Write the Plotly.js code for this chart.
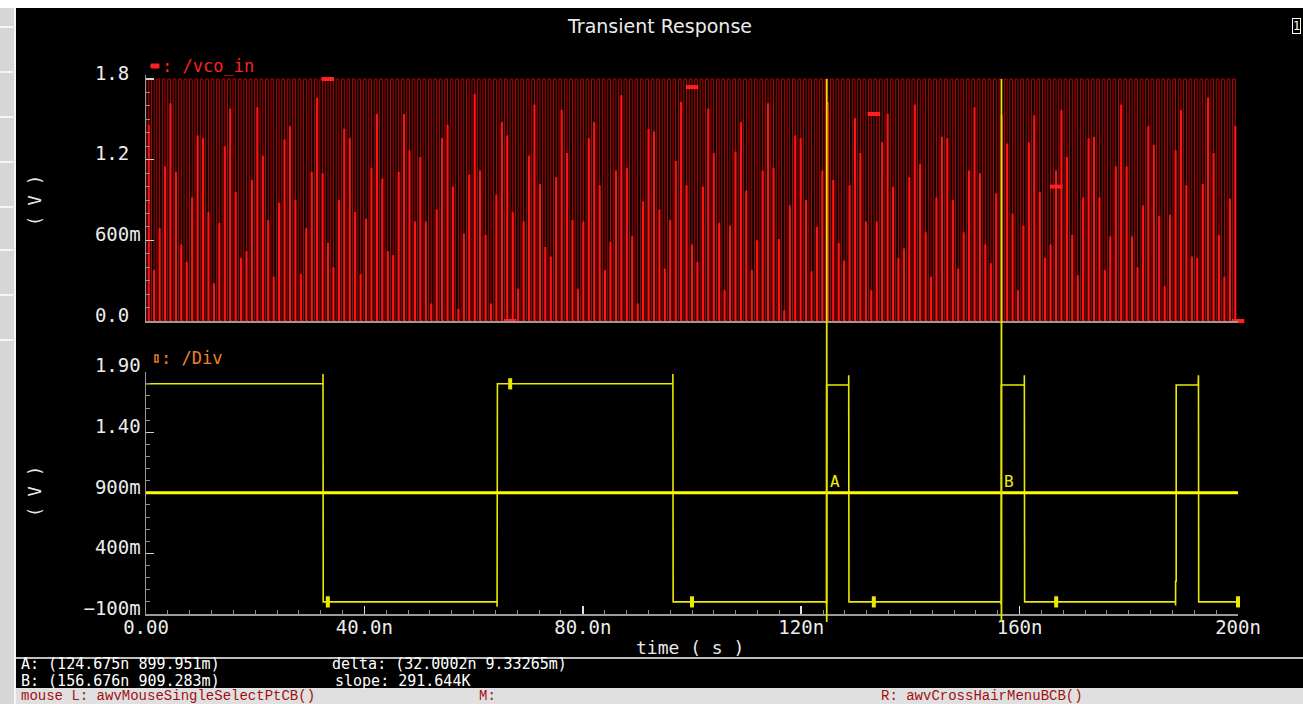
<!DOCTYPE html>
<html><head><meta charset="utf-8">
<script src="https://cdn.plot.ly/plotly-3.0.1.min.js"></script>
<style>html,body{margin:0;padding:0;background:#000;overflow:hidden}#chart{width:1303px;height:704px}</style>
</head><body><div id="chart"></div>
<script>
// ---------- data ----------
const tEndNs = 200;
const vcoHigh = 1.8;
const vcoLow = 0.0;
// level reached by the bright part of each /vco_in edge, as drawn
const vcoBrightTop = [
1.46,0.38,0.69,1.15,1.62,1.11,0.57,0.44,0.92,1.38,1.36,0.81,0.28,0.73,1.30,1.58,0.96,0.47,0.52,1.05,1.59,1.23,0.75,0.33,0.88,1.35,1.45,0.90,0.35,0.69,1.11,1.66,1.10,0.58,0.40,0.90,1.43,1.36,0.81,0.35,0.76,1.14,1.54,1.06,0.52,0.49,1.11,1.54,1.27,0.74,
1.22,0.74,0.13,0.83,1.36,1.46,1.00,0.09,0.65,1.09,1.69,1.12,0.64,0.13,0.94,1.48,1.38,0.81,0.24,0.74,1.23,1.61,1.02,0.55,0.48,1.07,1.57,1.25,0.75,0.24,0.74,1.36,1.48,1.01,0.38,0.59,1.12,1.68,1.14,0.63,0.13,0.89,1.43,1.41,0.83,0.39,0.75,1.19,1.63,1.01,
0.57,0.44,1.00,1.58,1.25,0.73,0.23,0.71,1.26,1.48,0.97,0.38,0.60,1.12,1.62,1.14,0.61,0.08,0.86,1.38,1.36,0.90,0.37,0.70,1.12,1.63,1.05,0.58,0.45,1.01,1.51,1.25,0.74,0.23,0.74,1.33,1.54,1.00,0.47,0.54,1.07,1.61,1.17,0.66,0.33,0.92,1.37,1.36,0.90,
0.39,0.66,1.12,1.59,1.10,0.57,0.43,0.95,1.53,1.32,0.80,0.23,0.71,1.33,1.53,0.96,0.47,0.57,1.12,1.57,1.22,0.64,0.34,0.92,1.36,1.37,0.92,0.38,0.63,1.15,1.61,1.15,0.63,0.40,0.86,1.45,1.31,0.78,0.26,0.79,1.27,1.57,1.01,0.48,0.47,1.02,1.66,1.25,0.64,0.33,0.91,1.45
];
const divTime = [0,32.42,32.42,32.46,64.3,64.3,64.32,64.36,64.36,96.5,96.5,96.55,124.6,124.64,124.67,128.7,128.7,128.75,156.6,156.64,156.66,160.87,160.87,160.92,188.55,188.57,188.57,188.68,188.68,192.7,192.73,192.76,192.8,200];
const divVolt = [1.8,1.8,1.88,0.0,0.0,-0.04,1.45,1.45,1.8,1.8,1.88,0.0,0.0,-0.02,1.79,1.79,1.87,0.0,0.0,-0.02,1.79,1.79,1.87,0.0,0.0,-0.03,0.17,0.17,1.79,1.79,1.82,1.87,0.0,0.0];
const markerTime = [33.3,66.7,100,133.3,166.7,200];
const vcoMarkerVolt = [1.8,0,1.74,1.54,1.0,0];
const divMarkerVolt = [0,1.8,0,0,0,0];
const cursorNames = ['A','B'];
const cursorTimes = [124.675,156.676];
const cursorLevel = 0.9;
const xTickVals = [0,40,80,120,160,200];
const xTickText = ['0.00','40.0n','80.0n','120n','160n','200n'];
const vcoTickVals = [0,0.6,1.2,1.8];
const vcoTickText = ['0.0','600m','1.2','1.8'];
const divTickVals = [-0.1,0.4,0.9,1.4,1.9];
const divTickText = ['\u2212100m','400m','900m','1.40','1.90'];
const infoLines = ['A: (124.675n 899.951m)','B: (156.676n 909.283m)','delta: (32.0002n 9.33265m)','slope: 291.644K'];
const statusTexts = ['mouse L: awvMouseSingleSelectPtCB()','M:','R: awvCrossHairMenuBCB()'];

// ---------- build traces ----------
const N = vcoBrightTop.length, P = tEndNs / N;
const thinX = [], thinY = [], brX = [], brY = [];
for (let i = 0; i < N; i++) {
  const t0 = i * P;
  thinX.push(t0, t0, t0 + P / 2, t0 + P / 2);
  thinY.push(vcoLow, vcoHigh, vcoHigh, vcoLow);
  brX.push(t0 + P / 2, t0 + P / 2, null);
  brY.push(vcoLow, vcoBrightTop[i], null);
}
thinX.push(tEndNs); thinY.push(vcoLow);

const pad4 = s => s.length >= 4 ? s : s + '\u00a0'.repeat(4 - s.length);
const mono = 'DejaVu Sans Mono, monospace';
const W = 1303, H = 704, L = 146, R = 65, T = 75, B = 90;
const px = v => (v - L) / (W - L - R);
const py = v => (H - B - v) / (H - T - B);

const traces = [
  {x: thinX, y: thinY, xaxis: 'x2', yaxis: 'y2', mode: 'lines', line: {color: '#c00000', width: 1}, hoverinfo: 'skip'},
  {x: brX, y: brY, xaxis: 'x2', yaxis: 'y2', mode: 'lines', line: {color: '#ff1414', width: 2.2}, connectgaps: false, hoverinfo: 'skip'},
  {x: markerTime, y: vcoMarkerVolt, xaxis: 'x2', yaxis: 'y2', mode: 'markers', cliponaxis: false,
   marker: {symbol: 'line-ew-open', size: 9, color: '#ff2020', line: {color: '#ff2020', width: 4}}},
  {x: divTime, y: divVolt, xaxis: 'x', yaxis: 'y', mode: 'lines', line: {color: '#eaea00', width: 1.6}},
  {x: markerTime, y: divMarkerVolt, xaxis: 'x', yaxis: 'y', mode: 'markers', cliponaxis: false,
   marker: {symbol: 'line-ns-open', size: 8, color: '#eaea00', line: {color: '#eaea00', width: 4}}}
];

const shapes = [
  // window chrome
  {type: 'rect', xref: 'paper', yref: 'paper', x0: px(0), x1: px(14), y0: py(704), y1: py(8), fillcolor: '#d6d6d6', line: {width: 0}, layer: 'below'},
  {type: 'line', xref: 'paper', yref: 'paper', x0: px(15), x1: px(15), y0: py(704), y1: py(8), line: {color: '#f4f4f4', width: 2}},
  {type: 'rect', xref: 'paper', yref: 'paper', x0: px(0), x1: px(1303), y0: py(8), y1: py(0), fillcolor: '#ffffff', line: {width: 0}},
  {type: 'rect', xref: 'paper', yref: 'paper', x0: px(16), x1: px(1303), y0: py(704), y1: py(688), fillcolor: '#e0e0e0', line: {width: 0}},
  {type: 'line', xref: 'paper', yref: 'paper', x0: px(16), x1: px(1303), y0: py(658), y1: py(658), line: {color: '#ffffff', width: 1.5}},
  // cursor crosshair
  {type: 'line', xref: 'x', yref: 'y', x0: 0, x1: tEndNs, y0: cursorLevel, y1: cursorLevel, line: {color: '#ffff00', width: 3}},
  // legend glyphs
  {type: 'rect', xref: 'paper', yref: 'paper', x0: px(151), x1: px(159), y0: py(68), y1: py(64), fillcolor: '#ff2020', line: {color: '#ff2020', width: 1}},
  {type: 'rect', xref: 'paper', yref: 'paper', x0: px(155), x1: px(158), y0: py(362), y1: py(355), fillcolor: 'rgba(0,0,0,0)', line: {color: '#f08020', width: 1.5}}
];
// left-strip button bevels
[27, 72, 117, 162, 207, 250, 295, 340].forEach(y => shapes.push({type: 'line', xref: 'paper', yref: 'paper', x0: px(0), x1: px(13), y0: py(y), y1: py(y), line: {color: '#ffffff', width: 1.5}}));
cursorTimes.forEach(t => shapes.push({type: 'line', xref: 'x', yref: 'paper', x0: t, x1: t, y0: py(622), y1: py(79), line: {color: '#e4e400', width: 1.8}}));

const ann = (x, y, text, font, xa, extra) => Object.assign({xref: 'paper', yref: 'paper', x: px(x), y: py(y), xanchor: xa || 'left', yanchor: 'middle', showarrow: false, text: text, font: font, borderpad: 0}, extra || {});
const infoFont = {family: mono, size: 15, color: '#ffffff'};
const statusFont = {family: 'Liberation Mono, monospace', size: 14, color: '#a01010'};
const annotations = [
  ann(161, 66, ': /vco_in', {family: mono, size: 17, color: '#ff2020'}),
  ann(160, 358, ': /Div', {family: mono, size: 17, color: '#f08020'}),
  ann(35, 201, '( V )', {family: mono, size: 17, color: '#e8e8e8'}, 'center', {textangle: -90}),
  ann(35, 492, '( V )', {family: mono, size: 17, color: '#e8e8e8'}, 'center', {textangle: -90}),
  ann(690, 647, 'time ( s )', {family: mono, size: 18, color: '#e8e8e8'}, 'center'),
  ann(1296, 26, '1', {family: mono, size: 12, color: '#ffffff'}, 'center', {bordercolor: '#ffffff', borderwidth: 1}),
  ann(20, 663.5, infoLines[0], infoFont),
  ann(20, 680.5, infoLines[1], infoFont),
  ann(331, 663.5, infoLines[2], infoFont),
  ann(334, 680.5, infoLines[3], infoFont),
  ann(20, 695.5, statusTexts[0], statusFont),
  ann(478, 695.5, statusTexts[1], statusFont),
  ann(880, 695.5, statusTexts[2], statusFont)
];
cursorNames.forEach((n, i) => annotations.push({xref: 'x', yref: 'y', x: cursorTimes[i], y: cursorLevel, xanchor: 'left', yanchor: 'bottom', xshift: 1, yshift: 0, showarrow: false, text: n, font: {family: mono, size: 16, color: '#f0f000'}}));

const tickFont = {family: mono, size: 19, color: '#ececec'};
const layout = {
  width: W, height: H,
  margin: {l: L, r: R, t: T, b: B, pad: 0},
  paper_bgcolor: '#000000', plot_bgcolor: '#000000',
  showlegend: false,
  title: {text: 'Transient Response', xref: 'container', yref: 'container', x: 660 / W, y: 1 - 26 / H, xanchor: 'center', yanchor: 'middle',
          font: {family: 'DejaVu Sans, sans-serif', size: 19, color: '#ececec'}},
  xaxis: {anchor: 'y', range: [0, tEndNs], tickmode: 'array', tickvals: xTickVals, ticktext: xTickText,
          ticks: 'inside', ticklen: 8, tickwidth: 1.5, tickcolor: '#e0e0e0', tickfont: tickFont, ticklabelstandoff: -4,
          minor: {tickmode: 'linear', tick0: 0, dtick: 4, ticks: 'inside', ticklen: 4, tickcolor: '#909090', tickwidth: 1},
          showline: true, linecolor: '#9a9a9a', linewidth: 1.5, showgrid: false, zeroline: false},
  xaxis2: {anchor: 'y2', matches: 'x', range: [0, tEndNs], showticklabels: false, ticks: '',
           showline: true, linecolor: '#9a9a9a', linewidth: 1.5, showgrid: false, zeroline: false},
  yaxis: {domain: [0, py(371.7)], anchor: 'x', range: [-0.1, 1.9], tickmode: 'array', tickvals: divTickVals, ticktext: divTickText.map(pad4),
          ticks: 'inside', ticklen: 8, tickwidth: 1.5, tickcolor: '#d0d0d0', tickfont: tickFont, ticklabelshift: -6,
          minor: {tickmode: 'linear', tick0: -0.1, dtick: 0.1, ticks: 'inside', ticklen: 4, tickcolor: '#909090', tickwidth: 1},
          showline: true, linecolor: '#9a9a9a', linewidth: 1.5, showgrid: false, zeroline: false},
  yaxis2: {domain: [py(321), 1], anchor: 'x2', range: [0, 1.83], tickmode: 'array', tickvals: vcoTickVals, ticktext: vcoTickText.map(pad4),
           ticks: 'inside', ticklen: 8, tickwidth: 1.5, tickcolor: '#d0d0d0', tickfont: tickFont, ticklabelshift: -6,
           minor: {tickmode: 'linear', tick0: 0, dtick: 0.1, ticks: 'inside', ticklen: 4, tickcolor: '#909090', tickwidth: 1},
           showline: true, linecolor: '#9a9a9a', linewidth: 1.5, showgrid: false, zeroline: false},
  shapes: shapes,
  annotations: annotations
};
Plotly.newPlot('chart', traces, layout, {staticPlot: true, displayModeBar: false});
</script></body></html>
